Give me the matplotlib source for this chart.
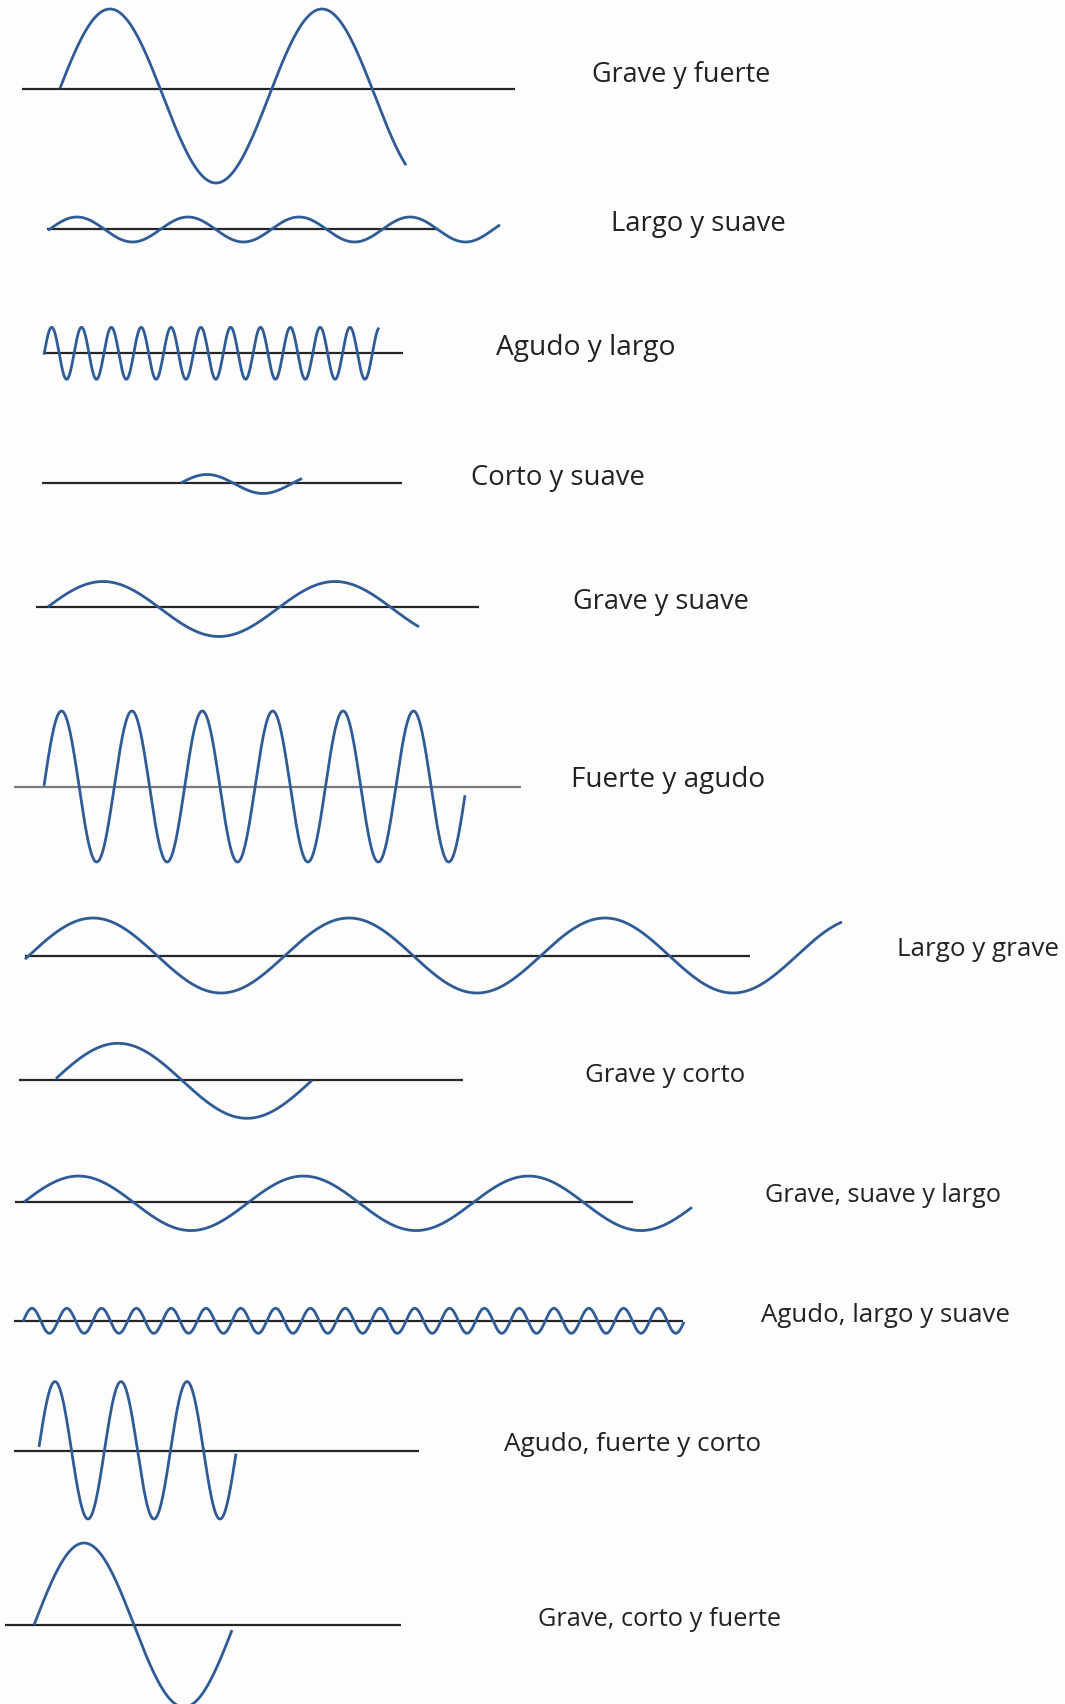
import numpy as np
import matplotlib
matplotlib.use("Agg")
import matplotlib.pyplot as plt

# ---- data (pixel coordinates) ----
labels = ["Grave y fuerte", "Largo y suave", "Agudo y largo", "Corto y suave",
          "Grave y suave", "Fuerte y agudo", "Largo y grave", "Grave y corto",
          "Grave, suave y largo", "Agudo, largo y suave",
          "Agudo, fuerte y corto", "Grave, corto y fuerte"]
baseline_y = [89, 229, 353, 483, 607, 787, 956, 1080, 1202, 1321, 1451, 1625]
baseline_x0 = [22, 47, 43, 42, 36, 14, 25, 19, 15, 14, 14, 5]
baseline_x1 = [515, 436, 403, 402, 479, 521, 750, 463, 633, 683, 419, 401]
wave_x0 = [60, 48, 44, 181, 48, 44, 25, 56, 24, 23, 39, 34]
wave_x1 = [406, 500, 379, 302, 419, 465, 842, 312, 692, 684, 236, 232]
wave_center = [96, 229.5, 353.3, 484, 609, 786.5, 955.5, 1080.8, 1203.3, 1320.8, 1450.3, 1625]
amplitude = [87, 12.5, 26, 9.5, 27.5, 75.5, 37.5, 37.5, 27.25, 12.5, 68.7, 82]
period = [212, 111, 29.83, 112, 232, 70.4, 256, 258, 225, 34.8, 66, 200]
peak_x = [110, 77, 51.7, 207, 103, 61.5, 93, 118, 78.5, 32, 55, 84]

# ---- layout / style ----
label_x = [592, 611, 496, 471, 573, 571, 897, 585, 765, 761, 504, 538]
label_y = [75, 224, 348, 477.5, 601.5, 780, 949.5, 1076, 1195, 1315, 1444.5, 1620]
label_w = [179, 175, 180, 174, 176, 194.5, 162, 160, 237, 249, 257.5, 243]
baseline_colors = ["#262626"] * 12
baseline_colors[5] = "#7a7a7a"
WAVE_COLOR = "#2f5b96"
TEXT_COLOR = "#222222"

W, H = 1065, 1704
fig = plt.figure(figsize=(W / 100, H / 100), dpi=100)
fig.patch.set_facecolor("#fdfdfd")
ax = fig.add_axes([0, 0, 1, 1])
ax.set_xlim(0, W)
ax.set_ylim(H, 0)
ax.axis("off")

for i in range(len(labels)):
    ax.plot([baseline_x0[i], baseline_x1[i]], [baseline_y[i], baseline_y[i]],
            color=baseline_colors[i], lw=1.6, solid_capstyle="butt", zorder=1)
    xs = np.linspace(wave_x0[i], wave_x1[i], 1200)
    ys = wave_center[i] - amplitude[i] * np.cos(2 * np.pi * (xs - peak_x[i]) / period[i])
    ax.plot(xs, ys, color=WAVE_COLOR, lw=2.0, solid_capstyle="butt", zorder=2)

texts = []
for i, lab in enumerate(labels):
    t = ax.text(label_x[i], label_y[i], lab, fontsize=16, family="Open Sans",
                fontweight="medium", color=TEXT_COLOR, ha="left", va="center")
    texts.append(t)

renderer = fig.canvas.get_renderer()
for i, t in enumerate(texts):
    w = t.get_window_extent(renderer=renderer).width
    t.set_fontsize(16 * label_w[i] / w)

fig.savefig("out.png", dpi=100, facecolor=fig.get_facecolor())
